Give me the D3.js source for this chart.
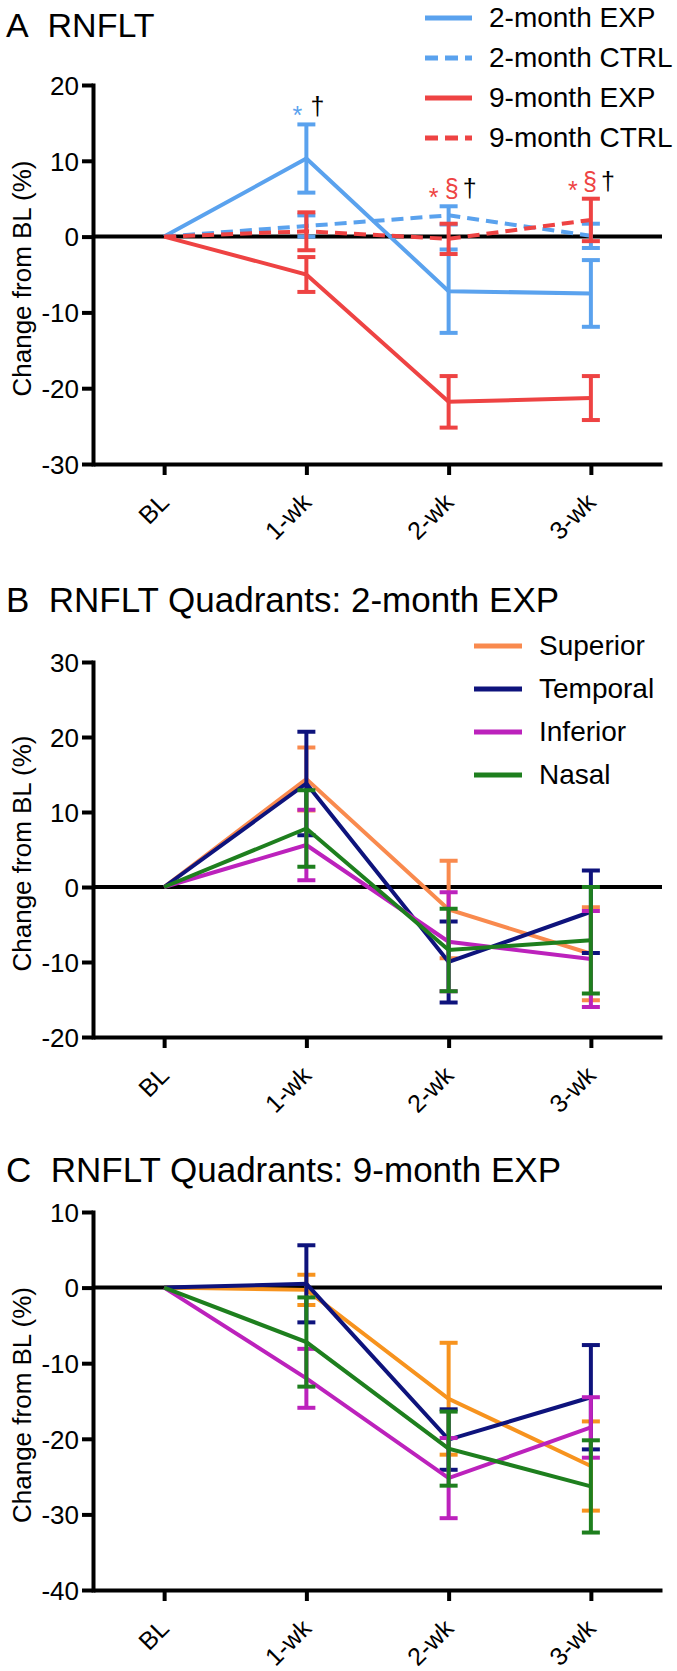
<!DOCTYPE html>
<html><head><meta charset="utf-8">
<script src="https://cdn.jsdelivr.net/npm/d3@7"></script>
<style>
body{margin:0;background:#fff}
svg text{font-family:"Liberation Sans",Arial,Helvetica,sans-serif;fill:#000}
</style></head>
<body><svg id="chart" width="677" height="1671"></svg>
<script>
// ---------- DATA ----------
const timepoints = ["BL", "1-wk", "2-wk", "3-wk"];

// Panel A: RNFLT (mean, error)
const a2mExpMean  = [0, 10.3, -7.2, -7.5];
const a2mExpErr   = [0, 4.5, 5.5, 4.4];
const a2mCtrlMean = [0, 1.4, 2.8, 0.1];
const a2mCtrlErr  = [0, 1.4, 1.2, 1.6];
const a9mExpMean  = [0, -5.0, -21.8, -21.3];
const a9mExpErr   = [0, 2.3, 3.4, 2.9];
const a9mCtrlMean = [0, 0.7, -0.3, 2.2];
const a9mCtrlErr  = [0, 2.5, 2.0, 2.8];

// Panel B: quadrants, 2-month EXP
const bSupMean = [0, 14.4, -3.0, -8.9];  const bSupErr = [0, 4.2, 6.5, 6.2];
const bTemMean = [0, 13.8, -10.0, -3.3]; const bTemErr = [0, 6.9, 5.4, 5.5];
const bInfMean = [0, 5.6, -7.3, -9.6];   const bInfErr = [0, 4.7, 6.6, 6.4];
const bNasMean = [0, 7.8, -8.4, -7.1];   const bNasErr = [0, 5.1, 5.5, 7.1];

// Panel C: quadrants, 9-month EXP
const cSupMean = [0, -0.3, -14.7, -23.6]; const cSupErr = [0, 2.0, 7.4, 5.9];
const cTemMean = [0, 0.5, -20.1, -14.5];  const cTemErr = [0, 5.1, 4.0, 6.9];
const cInfMean = [0, -12.0, -25.2, -18.5];const cInfErr = [0, 3.9, 5.3, 4.0];
const cNasMean = [0, -7.2, -21.3, -26.3]; const cNasErr = [0, 5.9, 4.9, 6.1];

const aTicks = [20, 10, 0, -10, -20, -30];
const bTicks = [30, 20, 10, 0, -10, -20];
const cTicks = [10, 0, -10, -20, -30, -40];

// Significance annotations in panel A
const annotations = [
  {tp: "1-wk", marks: [["*", "blue"], ["\u2020", "black"]]},
  {tp: "2-wk", marks: [["*", "red"], ["\u00A7", "red"], ["\u2020", "black"]]},
  {tp: "3-wk", marks: [["*", "red"], ["\u00A7", "red"], ["\u2020", "black"]]}
];

// ---------- STYLE ----------
const COL = {
  blue: "#5AA2EE", red: "#EE4343",
  orangeB: "#F98A4E", orangeC: "#F7931E",
  navy: "#0E137C", magenta: "#BC22BC", green: "#1E7F1E", black: "#000"
};

const svg = d3.select("#chart");
const X0 = 93, X1 = 662;
const x = d3.scalePoint().domain(timepoints).range([X0, X1]).padding(0.5);

function panel(cfg) {
  const g = svg.append("g");
  const y = d3.scaleLinear().domain(cfg.domain).range([cfg.bottom, cfg.top]);

  // title
  g.append("text").attr("x", 6).attr("y", cfg.titleY)
    .style("font-size", cfg.titleSize + "px").text(cfg.letter + "\u00A0\u00A0" + cfg.title);

  // zero line
  g.append("line").attr("x1", X0).attr("x2", X1)
    .attr("y1", y(0)).attr("y2", y(0))
    .attr("stroke", "#000").attr("stroke-width", 4);

  // y axis
  const ya = g.append("g").attr("transform", `translate(${X0},0)`)
    .call(d3.axisLeft(y).tickValues(cfg.ticks).tickFormat(d => String(d))
      .tickSize(11).tickSizeOuter(0).tickPadding(3));
  ya.select(".domain").attr("stroke-width", 4).attr("stroke-linecap", "square");
  ya.selectAll(".tick line").attr("stroke-width", 4);
  ya.selectAll(".tick text").style("font-size", "26px").attr("font-family", null)
    .attr("dy", "0.36em");

  // x axis
  const xa = g.append("g").attr("transform", `translate(0,${cfg.bottom})`)
    .call(d3.axisBottom(x).tickSize(11).tickSizeOuter(0));
  xa.select(".domain").attr("stroke-width", 4);
  xa.selectAll(".tick line").attr("stroke-width", 4);
  xa.selectAll(".tick text").style("font-size", "25px").attr("font-family", null)
    .attr("text-anchor", "end").attr("y", 0).attr("dy", 0)
    .attr("transform", "translate(6,40) rotate(-45)");

  // y axis title
  g.append("text")
    .attr("transform", `translate(31,${(cfg.top + cfg.bottom) / 2 + 4}) rotate(-90)`)
    .attr("text-anchor", "middle").style("font-size", "26px")
    .text("Change from BL (%)");

  // series
  const line = d3.line().x(d => x(d.t)).y(d => y(d.m));
  cfg.series.forEach(s => {
    const pts = timepoints.map((t, i) => ({t, m: s.mean[i], e: s.err[i]}));
    const sg = g.append("g");
    sg.append("path").datum(pts).attr("d", line).attr("fill", "none")
      .attr("stroke", s.color).attr("stroke-width", 4)
      .attr("stroke-dasharray", s.dashed ? "12,7" : null);
    const eb = sg.selectAll("g.eb").data(pts.filter(p => p.e > 0)).enter().append("g");
    eb.append("line").attr("x1", d => x(d.t)).attr("x2", d => x(d.t))
      .attr("y1", d => y(d.m + d.e)).attr("y2", d => y(d.m - d.e))
      .attr("stroke", s.color).attr("stroke-width", 4);
    [1, -1].forEach(sign => {
      eb.append("line").attr("x1", d => x(d.t) - 9).attr("x2", d => x(d.t) + 9)
        .attr("y1", d => y(d.m + sign * d.e)).attr("y2", d => y(d.m + sign * d.e))
        .attr("stroke", s.color).attr("stroke-width", 4);
    });
  });

  // legend
  if (cfg.legend) {
    const lg = g.append("g");
    cfg.series.forEach((s, i) => {
      const by = cfg.legend.y + i * cfg.legend.dy;
      lg.append("line").attr("x1", cfg.legend.x).attr("x2", cfg.legend.x + cfg.legend.len)
        .attr("y1", by - 9).attr("y2", by - 9)
        .attr("stroke", s.color).attr("stroke-width", 5)
        .attr("stroke-dasharray", s.dashed ? "13,7" : null);
      lg.append("text").attr("x", cfg.legend.tx).attr("y", by)
        .style("font-size", "28px").text(s.name);
    });
  }
  return {g, y};
}

const A = panel({
  letter: "A", title: "RNFLT", titleY: 37, titleSize: 34, top: 85, bottom: 464,
  domain: [-30, 20], ticks: aTicks,
  legend: {x: 425, len: 47, tx: 489, y: 27, dy: 40},
  series: [
    {name: "2-month EXP", mean: a2mExpMean, err: a2mExpErr, color: COL.blue},
    {name: "2-month CTRL", mean: a2mCtrlMean, err: a2mCtrlErr, color: COL.blue, dashed: true},
    {name: "9-month EXP", mean: a9mExpMean, err: a9mExpErr, color: COL.red},
    {name: "9-month CTRL", mean: a9mCtrlMean, err: a9mCtrlErr, color: COL.red, dashed: true}
  ]
});

// annotations above highest error cap
const allA = [[a2mExpMean, a2mExpErr], [a2mCtrlMean, a2mCtrlErr], [a9mExpMean, a9mExpErr], [a9mCtrlMean, a9mCtrlErr]];
const offsets = {"1-wk": [-9, 11], "2-wk": [-15, 3, 21], "3-wk": [-18, -1, 17]};
annotations.forEach(an => {
  const i = timepoints.indexOf(an.tp);
  const top = d3.max(allA, s => s[0][i] + s[1][i]);
  const by = A.y(top) - 9;
  an.marks.forEach((m, k) => {
    A.g.append("text").attr("x", x(an.tp) + offsets[an.tp][k]).attr("y", by)
      .attr("dy", m[0] === "*" ? 9 : 0)
      .attr("text-anchor", "middle").style("font-size", "25px")
      .style("fill", COL[m[1]]).text(m[0]);
  });
});

panel({
  letter: "B", title: "RNFLT Quadrants: 2-month EXP", titleY: 612, titleSize: 35, top: 662, bottom: 1037,
  domain: [-20, 30], ticks: bTicks,
  legend: {x: 474, len: 48, tx: 539, y: 655, dy: 43},
  series: [
    {name: "Superior", mean: bSupMean, err: bSupErr, color: COL.orangeB},
    {name: "Temporal", mean: bTemMean, err: bTemErr, color: COL.navy},
    {name: "Inferior", mean: bInfMean, err: bInfErr, color: COL.magenta},
    {name: "Nasal", mean: bNasMean, err: bNasErr, color: COL.green}
  ]
});

panel({
  letter: "C", title: "RNFLT Quadrants: 9-month EXP", titleY: 1182, titleSize: 35, top: 1212, bottom: 1590,
  domain: [-40, 10], ticks: cTicks,
  legend: null,
  series: [
    {name: "Superior", mean: cSupMean, err: cSupErr, color: COL.orangeC},
    {name: "Temporal", mean: cTemMean, err: cTemErr, color: COL.navy},
    {name: "Inferior", mean: cInfMean, err: cInfErr, color: COL.magenta},
    {name: "Nasal", mean: cNasMean, err: cNasErr, color: COL.green}
  ]
});
</script></body></html>
